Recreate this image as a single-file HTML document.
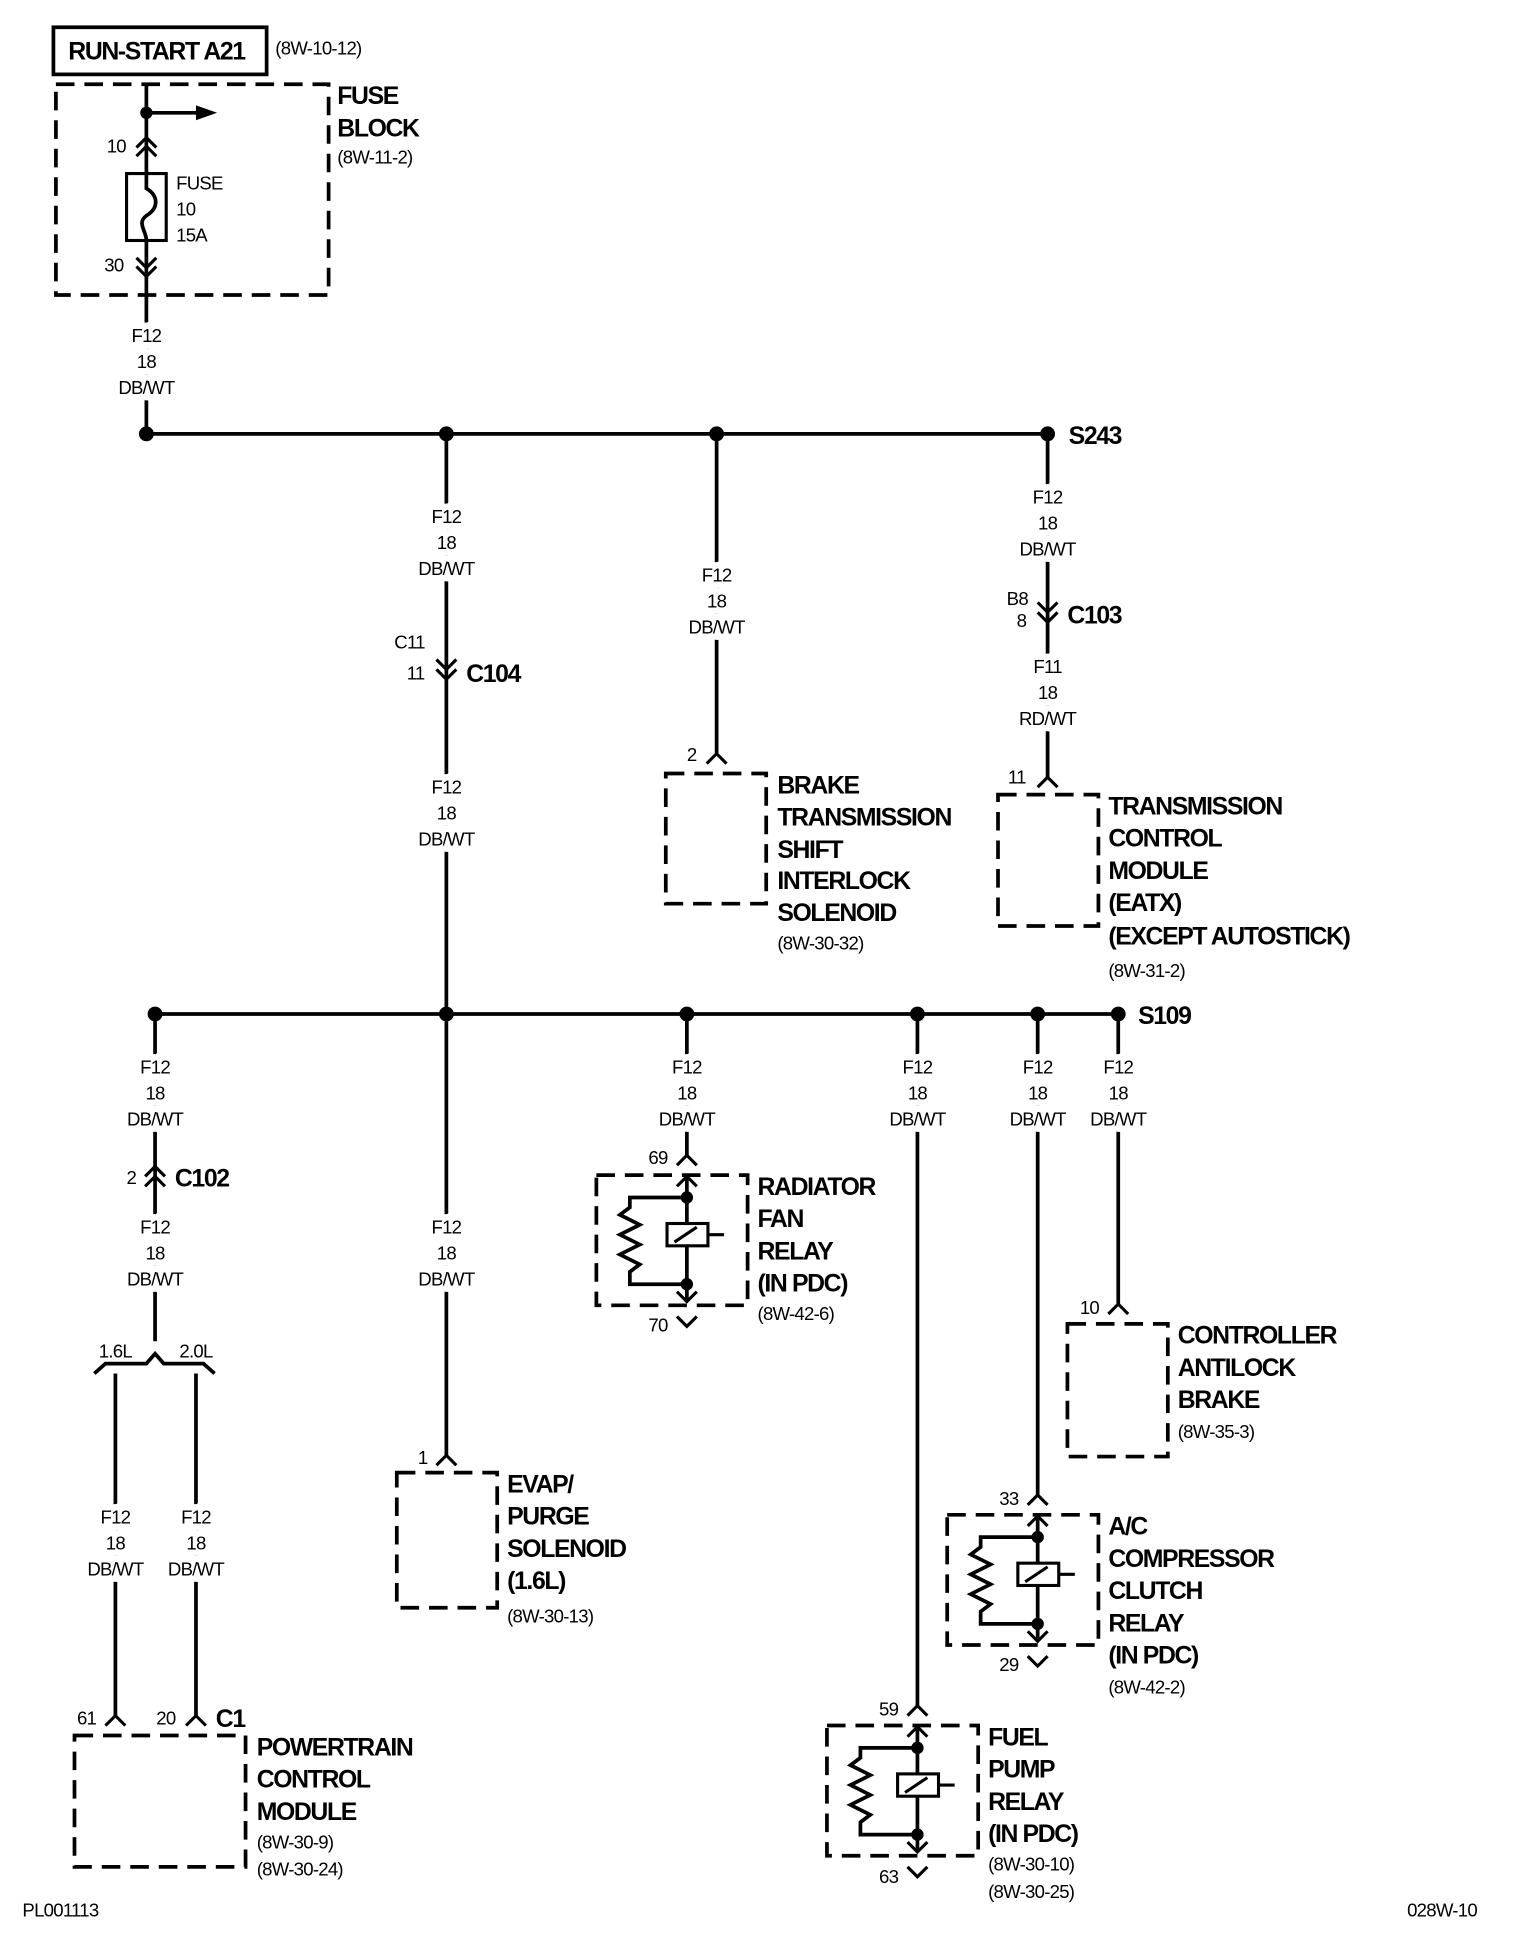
<!DOCTYPE html>
<html><head><meta charset="utf-8"><style>
html,body{margin:0;padding:0;background:#fff}
svg{display:block}
text{font-family:"Liberation Sans",Arial,sans-serif;fill:#000;letter-spacing:-0.6px}
.b{font-weight:bold;font-size:20px;letter-spacing:-1.1px}
.s{font-size:15px}
.w{font-size:15px;text-anchor:middle;paint-order:stroke;stroke:#fff;stroke-width:10px}
.l{fill:none;stroke:#000;stroke-width:3}
.d{fill:none;stroke:#000;stroke-width:3;stroke-dasharray:15 8}
</style></head><body>
<svg width="1520" height="1940" viewBox="0 0 1226 1565" xmlns="http://www.w3.org/2000/svg">
<defs>
<polyline id="up" points="-8,8 0,0 8,8" fill="none" stroke="#000" stroke-width="2.5"/>
<polyline id="dn" points="-8,-8 0,0 8,-8" fill="none" stroke="#000" stroke-width="2.5"/>
<g id="relay">
<rect x="-73" y="0" width="122" height="105" class="d"/>
<line x1="0" y1="0" x2="0" y2="100" class="l"/>
<polyline points="0,18 -46,18 -46,26 -54,32 -38,40 -54,48 -38,56 -54,64 -38,72 -46,78 -46,88 0,88" class="l" stroke-width="2.5"/>
<circle cx="0" cy="18" r="5"/><circle cx="0" cy="88" r="5"/>
<rect x="-16" y="39" width="33" height="18" fill="#fff" stroke="#000" stroke-width="2.5"/>
<line x1="-10" y1="54" x2="8" y2="42" stroke="#000" stroke-width="2.5"/>
<line x1="17" y1="48" x2="30" y2="48" stroke="#000" stroke-width="2.5"/>
<use href="#up" y="1"/>
<use href="#dn" y="102"/>
</g>
</defs>

<!-- top -->
<rect x="43" y="22" width="172" height="38" fill="none" stroke="#000" stroke-width="3"/>
<text x="55" y="48" class="b">RUN-START A21</text>
<text x="222" y="44" class="s">(8W-10-12)</text>
<rect x="45" y="68" width="220" height="170" class="d"/>
<text x="272" y="84" class="b">FUSE</text>
<text x="272" y="110" class="b">BLOCK</text>
<text x="272" y="132" class="s">(8W-11-2)</text>
<line x1="118" y1="68" x2="118" y2="350" class="l"/>
<circle cx="118" cy="91" r="5"/>
<line x1="118" y1="91" x2="160" y2="91" class="l"/>
<polygon points="158,85 175,91 158,97"/>
<use href="#up" x="118" y="111"/><use href="#up" x="118" y="118"/>
<text x="86" y="123" class="s">10</text>
<rect x="102" y="140" width="32" height="54" fill="#fff" stroke="#000" stroke-width="2.5"/>
<path d="M118,140 L118,152 C128,158 128,168 118,174 C110,180 118,186 118,194" class="l" stroke-width="2.5"/>
<text x="142" y="153" class="s">FUSE</text>
<text x="142" y="174" class="s">10</text>
<text x="142" y="195" class="s">15A</text>
<use href="#dn" x="118" y="216"/><use href="#dn" x="118" y="223"/>
<text x="84" y="219" class="s">30</text>
<text x="118" y="276" class="w">F12</text><text x="118" y="297" class="w">18</text><text x="118" y="318" class="w">DB/WT</text>

<!-- bus 1 -->
<line x1="118" y1="350" x2="845" y2="350" class="l"/>
<circle cx="118" cy="350" r="6"/><circle cx="360" cy="350" r="6"/><circle cx="578" cy="350" r="6"/><circle cx="845" cy="350" r="6"/>
<text x="862" y="358" class="b">S243</text>

<!-- x=360 -->
<line x1="360" y1="350" x2="360" y2="818" class="l"/>
<text x="360" y="422" class="w">F12</text><text x="360" y="443" class="w">18</text><text x="360" y="464" class="w">DB/WT</text>
<use href="#dn" x="360" y="540"/><use href="#dn" x="360" y="548"/>
<text x="318" y="523" class="s">C11</text><text x="328" y="548" class="s">11</text>
<text x="376" y="550" class="b">C104</text>
<text x="360" y="640" class="w">F12</text><text x="360" y="661" class="w">18</text><text x="360" y="682" class="w">DB/WT</text>

<!-- x=578 brake -->
<line x1="578" y1="350" x2="578" y2="608" class="l"/>
<text x="578" y="469" class="w">F12</text><text x="578" y="490" class="w">18</text><text x="578" y="511" class="w">DB/WT</text>
<use href="#up" x="578" y="608"/>
<text x="554" y="614" class="s">2</text>
<rect x="537" y="624" width="81" height="105" class="d"/>
<text x="627" y="640" class="b">BRAKE</text>
<text x="627" y="666" class="b">TRANSMISSION</text>
<text x="627" y="692" class="b">SHIFT</text>
<text x="627" y="717" class="b">INTERLOCK</text>
<text x="627" y="743" class="b">SOLENOID</text>
<text x="627" y="766" class="s">(8W-30-32)</text>

<!-- x=845 TCM -->
<line x1="845" y1="350" x2="845" y2="627" class="l"/>
<text x="845" y="406" class="w">F12</text><text x="845" y="427" class="w">18</text><text x="845" y="448" class="w">DB/WT</text>
<use href="#dn" x="845" y="494"/><use href="#dn" x="845" y="502"/>
<text x="812" y="488" class="s">B8</text><text x="820" y="506" class="s">8</text>
<text x="861" y="503" class="b">C103</text>
<text x="845" y="543" class="w">F11</text><text x="845" y="564" class="w">18</text><text x="845" y="585" class="w">RD/WT</text>
<use href="#up" x="845" y="627"/>
<text x="813" y="632" class="s">11</text>
<rect x="805" y="641" width="81" height="106" class="d"/>
<text x="894" y="657" class="b">TRANSMISSION</text>
<text x="894" y="683" class="b">CONTROL</text>
<text x="894" y="709" class="b">MODULE</text>
<text x="894" y="735" class="b">(EATX)</text>
<text x="894" y="762" class="b">(EXCEPT AUTOSTICK)</text>
<text x="894" y="788" class="s">(8W-31-2)</text>

<!-- bus 2 -->
<line x1="125" y1="818" x2="902" y2="818" class="l"/>
<circle cx="125" cy="818" r="6"/><circle cx="360" cy="818" r="6"/><circle cx="554" cy="818" r="6"/><circle cx="740" cy="818" r="6"/><circle cx="837" cy="818" r="6"/><circle cx="902" cy="818" r="6"/>
<text x="918" y="826" class="b">S109</text>

<!-- x=125 PCM -->
<line x1="125" y1="818" x2="125" y2="1082" class="l"/>
<text x="125" y="866" class="w">F12</text><text x="125" y="887" class="w">18</text><text x="125" y="908" class="w">DB/WT</text>
<use href="#up" x="125" y="941"/><use href="#up" x="125" y="949"/>
<text x="102" y="955" class="s">2</text>
<text x="141" y="957" class="b">C102</text>
<text x="125" y="995" class="w">F12</text><text x="125" y="1016" class="w">18</text><text x="125" y="1037" class="w">DB/WT</text>
<polyline points="76,1108 85,1100 118,1100 125,1092 132,1100 164,1100 173,1108" class="l" stroke-width="2.5"/>
<text x="93" y="1095" class="s" text-anchor="middle">1.6L</text><text x="158" y="1095" class="s" text-anchor="middle">2.0L</text>
<line x1="93" y1="1108" x2="93" y2="1384" class="l"/>
<line x1="158" y1="1108" x2="158" y2="1384" class="l"/>
<text x="93" y="1229" class="w">F12</text><text x="93" y="1250" class="w">18</text><text x="93" y="1271" class="w">DB/WT</text>
<text x="158" y="1229" class="w">F12</text><text x="158" y="1250" class="w">18</text><text x="158" y="1271" class="w">DB/WT</text>
<use href="#up" x="93" y="1384"/><use href="#up" x="158" y="1384"/>
<text x="62" y="1391" class="s">61</text><text x="126" y="1391" class="s">20</text>
<text x="174" y="1393" class="b">C1</text>
<rect x="60" y="1400" width="138" height="106" class="d"/>
<text x="207" y="1416" class="b">POWERTRAIN</text>
<text x="207" y="1442" class="b">CONTROL</text>
<text x="207" y="1468" class="b">MODULE</text>
<text x="207" y="1491" class="s">(8W-30-9)</text>
<text x="207" y="1513" class="s">(8W-30-24)</text>

<!-- x=360 EVAP -->
<line x1="360" y1="818" x2="360" y2="1174" class="l"/>
<text x="360" y="995" class="w">F12</text><text x="360" y="1016" class="w">18</text><text x="360" y="1037" class="w">DB/WT</text>
<use href="#up" x="360" y="1174"/>
<text x="337" y="1181" class="s">1</text>
<rect x="320" y="1188" width="81" height="109" class="d"/>
<text x="409" y="1204" class="b">EVAP/</text>
<text x="409" y="1230" class="b">PURGE</text>
<text x="409" y="1256" class="b">SOLENOID</text>
<text x="409" y="1282" class="b">(1.6L)</text>
<text x="409" y="1309" class="s">(8W-30-13)</text>

<!-- x=554 radiator -->
<line x1="554" y1="818" x2="554" y2="932" class="l"/>
<text x="554" y="866" class="w">F12</text><text x="554" y="887" class="w">18</text><text x="554" y="908" class="w">DB/WT</text>
<use href="#up" x="554" y="932"/>
<text x="523" y="939" class="s">69</text>
<use href="#relay" x="554" y="948"/>
<use href="#dn" x="554" y="1070"/>
<text x="523" y="1074" class="s">70</text>
<text x="611" y="964" class="b">RADIATOR</text>
<text x="611" y="990" class="b">FAN</text>
<text x="611" y="1016" class="b">RELAY</text>
<text x="611" y="1042" class="b">(IN PDC)</text>
<text x="611" y="1065" class="s">(8W-42-6)</text>

<!-- x=740 fuel pump -->
<line x1="740" y1="818" x2="740" y2="1376" class="l"/>
<text x="740" y="866" class="w">F12</text><text x="740" y="887" class="w">18</text><text x="740" y="908" class="w">DB/WT</text>
<use href="#up" x="740" y="1376"/>
<text x="709" y="1384" class="s">59</text>
<use href="#relay" x="740" y="1392"/>
<use href="#dn" x="740" y="1514"/>
<text x="709" y="1519" class="s">63</text>
<text x="797" y="1408" class="b">FUEL</text>
<text x="797" y="1434" class="b">PUMP</text>
<text x="797" y="1460" class="b">RELAY</text>
<text x="797" y="1486" class="b">(IN PDC)</text>
<text x="797" y="1509" class="s">(8W-30-10)</text>
<text x="797" y="1531" class="s">(8W-30-25)</text>

<!-- x=837 A/C -->
<line x1="837" y1="818" x2="837" y2="1206" class="l"/>
<text x="837" y="866" class="w">F12</text><text x="837" y="887" class="w">18</text><text x="837" y="908" class="w">DB/WT</text>
<use href="#up" x="837" y="1206"/>
<text x="806" y="1214" class="s">33</text>
<use href="#relay" x="837" y="1222"/>
<use href="#dn" x="837" y="1344"/>
<text x="806" y="1348" class="s">29</text>
<text x="894" y="1238" class="b">A/C</text>
<text x="894" y="1264" class="b">COMPRESSOR</text>
<text x="894" y="1290" class="b">CLUTCH</text>
<text x="894" y="1316" class="b">RELAY</text>
<text x="894" y="1342" class="b">(IN PDC)</text>
<text x="894" y="1366" class="s">(8W-42-2)</text>

<!-- x=902 ABS -->
<line x1="902" y1="818" x2="902" y2="1052" class="l"/>
<text x="902" y="866" class="w">F12</text><text x="902" y="887" class="w">18</text><text x="902" y="908" class="w">DB/WT</text>
<use href="#up" x="902" y="1052"/>
<text x="871" y="1060" class="s">10</text>
<rect x="861" y="1068" width="81" height="107" class="d"/>
<text x="950" y="1084" class="b">CONTROLLER</text>
<text x="950" y="1110" class="b">ANTILOCK</text>
<text x="950" y="1136" class="b">BRAKE</text>
<text x="950" y="1160" class="s">(8W-35-3)</text>

<text x="18" y="1546" class="s">PL001113</text>
<text x="1135" y="1546" class="s">028W-10</text>
</svg>
</body></html>
